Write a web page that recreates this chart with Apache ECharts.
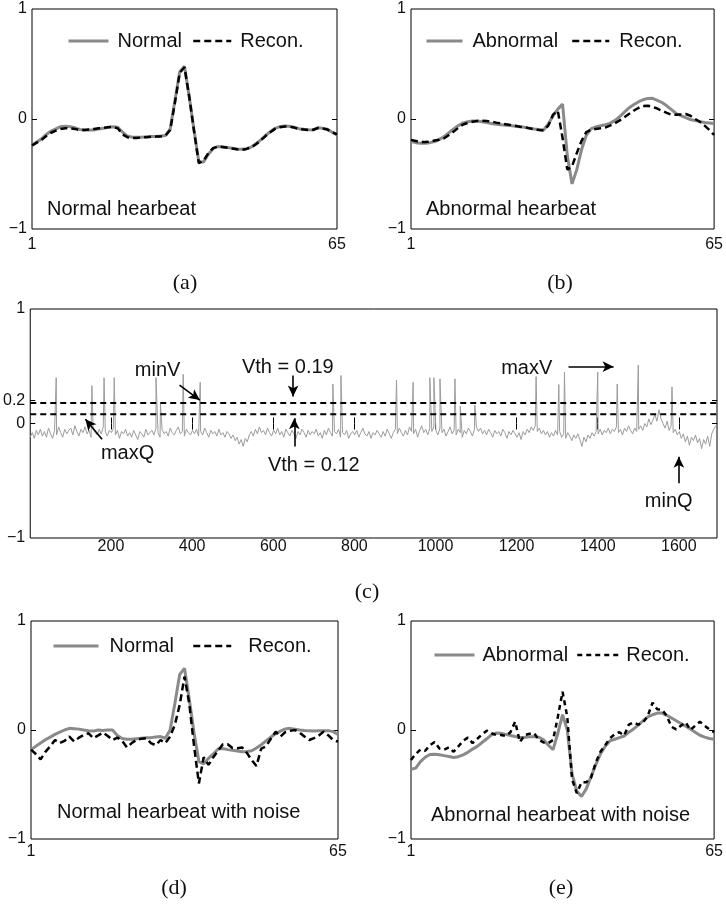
<!DOCTYPE html>
<html><head><meta charset="utf-8">
<script src="https://cdn.jsdelivr.net/npm/echarts@6/dist/echarts.min.js"></script>
<style>html,body{margin:0;padding:0;background:#fff}#c{width:726px;height:905px}</style>
</head><body><div id="c"></div>
<script>
// ---------------- DATA ----------------
const beatX = Array.from({length: 65}, (_, i) => i + 1);
const beatTicksX = [1, 65];
const beatTicksY = [-1, 0, 1];

const normalA = [-0.24,-0.21,-0.18,-0.14,-0.11,-0.09,-0.07,-0.065,-0.07,-0.08,
  -0.095,-0.1,-0.1,-0.1,-0.09,-0.085,-0.075,-0.07,-0.075,-0.12,
  -0.155,-0.165,-0.167,-0.165,-0.162,-0.16,-0.158,-0.155,-0.15,-0.09,
  0.17,0.43,0.48,0.2,-0.1,-0.39,-0.39,-0.32,-0.27,-0.25,
  -0.255,-0.26,-0.265,-0.272,-0.276,-0.27,-0.255,-0.225,-0.19,-0.15,
  -0.115,-0.085,-0.07,-0.064,-0.066,-0.075,-0.088,-0.094,-0.098,-0.1,
  -0.08,-0.085,-0.094,-0.12,-0.145];
const reconA = [-0.24,-0.215,-0.19,-0.155,-0.125,-0.105,-0.09,-0.085,-0.085,-0.09,
  -0.1,-0.1,-0.095,-0.09,-0.085,-0.08,-0.075,-0.072,-0.085,-0.14,
  -0.165,-0.172,-0.172,-0.168,-0.165,-0.162,-0.16,-0.158,-0.152,-0.1,
  0.15,0.42,0.47,0.2,-0.11,-0.4,-0.38,-0.31,-0.265,-0.25,
  -0.255,-0.262,-0.268,-0.275,-0.28,-0.272,-0.258,-0.23,-0.195,-0.155,
  -0.12,-0.09,-0.075,-0.068,-0.07,-0.078,-0.09,-0.095,-0.1,-0.098,
  -0.082,-0.087,-0.096,-0.12,-0.14];

const abnormalB = [-0.205,-0.215,-0.22,-0.22,-0.215,-0.205,-0.185,-0.16,-0.125,-0.09,
  -0.06,-0.035,-0.025,-0.018,-0.018,-0.025,-0.033,-0.04,-0.047,-0.052,
  -0.057,-0.06,-0.065,-0.07,-0.076,-0.083,-0.09,-0.095,-0.1,-0.045,
  0.03,0.09,0.135,-0.33,-0.59,-0.46,-0.28,-0.15,-0.09,-0.072,
  -0.062,-0.052,-0.04,-0.015,0.018,0.06,0.1,0.13,0.155,0.175,
  0.187,0.188,0.17,0.15,0.12,0.085,0.05,0.03,0.012,-0.005,
  -0.015,-0.024,-0.032,-0.036,-0.04];
const reconB = [-0.19,-0.2,-0.21,-0.21,-0.205,-0.195,-0.188,-0.176,-0.145,-0.115,
  -0.08,-0.05,-0.035,-0.025,-0.018,-0.015,-0.018,-0.025,-0.033,-0.04,
  -0.047,-0.055,-0.062,-0.07,-0.076,-0.085,-0.093,-0.1,-0.105,-0.06,
  0.04,0.075,-0.17,-0.46,-0.43,-0.31,-0.2,-0.12,-0.098,-0.09,
  -0.085,-0.078,-0.06,-0.04,-0.015,0.015,0.045,0.075,0.1,0.118,
  0.12,0.11,0.095,0.075,0.055,0.038,0.038,0.042,0.045,0.03,
  0.0,-0.025,-0.06,-0.1,-0.145];

const normalD = [-0.18,-0.15,-0.12,-0.09,-0.065,-0.04,-0.02,0.0,0.015,0.012,
  0.008,0.0,-0.006,-0.01,0.0,-0.005,0.0,0.0,-0.05,-0.078,
  -0.085,-0.084,-0.08,-0.076,-0.072,-0.07,-0.065,-0.06,-0.076,0.0,
  0.245,0.51,0.566,0.28,-0.03,-0.29,-0.31,-0.26,-0.22,-0.175,
  -0.17,-0.18,-0.186,-0.193,-0.2,-0.197,-0.19,-0.165,-0.135,-0.1,
  -0.065,-0.035,-0.01,0.01,0.015,0.008,0.0,-0.005,-0.008,-0.01,
  -0.008,-0.006,-0.006,-0.015,-0.04];
const reconD = [-0.18,-0.22,-0.27,-0.2,-0.15,-0.092,-0.12,-0.1,-0.06,-0.105,
  -0.07,-0.045,-0.03,-0.075,-0.05,-0.024,-0.055,-0.092,-0.07,-0.1,
  -0.159,-0.12,-0.09,-0.08,-0.076,-0.12,-0.14,-0.092,-0.12,-0.06,
  0.05,0.23,0.49,0.24,-0.15,-0.49,-0.25,-0.32,-0.25,-0.19,
  -0.13,-0.13,-0.165,-0.168,-0.16,-0.21,-0.275,-0.33,-0.17,-0.15,
  -0.08,-0.015,-0.061,-0.02,-0.008,0.0,-0.024,-0.06,-0.092,-0.075,
  -0.05,-0.015,-0.05,-0.092,-0.107];

const abnormalE = [-0.36,-0.35,-0.29,-0.25,-0.225,-0.222,-0.228,-0.235,-0.243,-0.252,
  -0.245,-0.228,-0.205,-0.175,-0.15,-0.115,-0.08,-0.045,-0.028,-0.03,
  -0.04,-0.05,-0.06,-0.068,-0.066,-0.062,-0.063,-0.066,-0.09,-0.14,
  -0.18,-0.03,0.14,0.0,-0.4,-0.56,-0.61,-0.54,-0.43,-0.32,
  -0.22,-0.15,-0.1,-0.085,-0.07,-0.055,-0.02,0.01,0.045,0.085,
  0.12,0.14,0.155,0.155,0.135,0.11,0.085,0.06,0.035,0.01,
  -0.02,-0.048,-0.065,-0.078,-0.085];
const reconE = [-0.275,-0.22,-0.18,-0.19,-0.14,-0.11,-0.17,-0.18,-0.16,-0.2,
  -0.15,-0.1,-0.07,-0.12,-0.08,-0.04,-0.006,-0.03,-0.046,-0.046,
  -0.055,-0.02,0.076,-0.11,-0.046,-0.035,-0.03,-0.09,-0.115,-0.12,
  -0.092,0.12,0.35,0.12,-0.45,-0.58,-0.48,-0.48,-0.44,-0.3,
  -0.2,-0.14,-0.076,-0.04,-0.02,-0.05,0.05,0.07,0.05,0.07,
  0.13,0.25,0.19,0.185,0.13,0.03,0.005,0.04,0.07,0.0,
  0.04,0.076,0.04,0.005,-0.02];

// Panel (c): long signal, baseline sampled every 5 samples from x = 1
const signalStep = 5;
const signalBase = [
  -0.12,-0.08,-0.13,-0.06,-0.1,-0.05,-0.11,-0.07,-0.12,-0.04,-0.09,-0.13,-0.06,-0.1,-0.03,-0.08,-0.12,-0.05,-0.09,-0.06,
  -0.04,-0.1,-0.02,-0.07,-0.11,-0.05,-0.08,-0.03,-0.09,-0.06,-0.12,-0.04,-0.08,-0.1,-0.05,-0.09,-0.03,-0.07,-0.11,-0.06,
  -0.08,-0.04,-0.1,-0.06,-0.13,-0.07,-0.09,-0.05,-0.11,-0.08,-0.12,-0.06,-0.1,-0.14,-0.07,-0.09,-0.12,-0.05,-0.1,-0.08,
  -0.06,-0.1,-0.04,-0.08,-0.12,-0.05,-0.09,-0.07,-0.11,-0.04,-0.08,-0.1,-0.06,-0.03,-0.09,-0.07,-0.11,-0.05,-0.08,-0.1,
  -0.06,-0.09,-0.05,-0.11,-0.07,-0.1,-0.04,-0.08,-0.12,-0.06,-0.09,-0.07,-0.11,-0.05,-0.1,-0.08,-0.12,-0.07,-0.09,-0.13,
  -0.1,-0.15,-0.12,-0.18,-0.14,-0.2,-0.13,-0.16,-0.1,-0.07,-0.11,-0.05,-0.09,-0.03,-0.08,-0.06,-0.1,-0.04,-0.08,-0.11,
  -0.06,-0.09,-0.04,-0.1,-0.07,-0.12,-0.05,-0.08,-0.11,-0.06,-0.09,-0.13,-0.07,-0.1,-0.05,-0.08,-0.12,-0.06,-0.1,-0.07,
  -0.09,-0.05,-0.11,-0.08,-0.13,-0.06,-0.1,-0.04,-0.08,-0.11,-0.07,-0.09,-0.05,-0.12,-0.08,-0.1,-0.06,-0.13,-0.09,-0.07,
  -0.1,-0.06,-0.12,-0.08,-0.04,-0.09,-0.11,-0.07,-0.13,-0.08,-0.1,-0.06,-0.09,-0.12,-0.07,-0.11,-0.05,-0.09,-0.13,-0.08,
  -0.05,-0.09,-0.04,-0.08,-0.11,-0.06,-0.1,-0.03,-0.07,-0.09,-0.05,-0.12,-0.06,-0.02,-0.08,-0.05,-0.1,-0.04,-0.07,-0.03,
  -0.06,-0.1,-0.04,-0.08,-0.05,-0.11,-0.07,-0.03,-0.09,-0.06,-0.1,-0.05,-0.08,-0.12,-0.06,-0.09,-0.04,-0.07,-0.11,-0.05,
  -0.03,-0.07,-0.04,-0.09,-0.06,-0.1,-0.05,-0.08,-0.12,-0.06,-0.09,-0.07,-0.11,-0.05,-0.08,-0.13,-0.07,-0.1,-0.06,-0.09,
  -0.12,-0.08,-0.14,-0.07,-0.1,-0.05,-0.08,-0.03,-0.06,-0.02,-0.07,-0.04,-0.09,-0.06,-0.1,-0.07,-0.12,-0.08,-0.11,-0.06,
  -0.1,-0.07,-0.12,-0.09,-0.13,-0.08,-0.11,-0.15,-0.1,-0.13,-0.09,-0.14,-0.2,-0.12,-0.16,-0.1,-0.13,-0.08,-0.11,-0.07,
  -0.09,-0.05,-0.1,-0.06,-0.08,-0.04,-0.09,-0.05,-0.07,-0.03,-0.08,-0.05,-0.1,-0.04,-0.07,-0.02,-0.06,-0.09,-0.04,-0.07,
  -0.05,-0.02,-0.06,0.0,-0.03,0.04,-0.01,0.03,0.08,0.02,0.12,0.04,0.0,-0.04,0.02,-0.06,-0.02,-0.08,-0.05,-0.1,
  -0.07,-0.13,-0.09,-0.16,-0.11,-0.19,-0.12,-0.15,-0.1,-0.17,-0.13,-0.22,-0.14,-0.18,-0.11,-0.2,-0.09,-0.05,-0.02
];
const spikeX = [65,153,183,208,311,322,378,420,747,767,904,945,986,996,1011,1048,1061,1097,1248,1304,1318,1400,1448,1500,1583];
const spikeY = [0.40,0.33,0.40,0.40,0.40,0.17,0.43,0.36,0.345,0.42,0.38,0.36,0.40,0.40,0.39,0.39,0.15,0.16,0.41,0.34,0.45,0.45,0.345,0.51,0.32];
const vthLevels = [0.18, 0.08];
const cRange = [1, 1694];
const cTicksX = [200, 400, 600, 800, 1000, 1200, 1400, 1600];
const cLabelsY = [-1, 0, 0.2, 1];
const cTicksY = [0, 0.2];

const annoText = ['minV', 'Vth = 0.19', 'maxQ', 'Vth = 0.12', 'maxV', 'minQ'];
const annoPos = [[315, 0.467], [636, 0.49], [241, -0.26], [700, -0.371], [1225, 0.482], [1575, -0.677]];
const arrowFrom = [[649, 0.42], [652, -0.2], [369, 0.336], [178, -0.138], [1328, 0.496], [1600, -0.522]];
const arrowTo   = [[649, 0.235], [652, 0.045], [419, 0.205], [137, 0.037], [1439, 0.496], [1600, -0.29]];

// ---------------- CHART ----------------
const SANS = '"Liberation Sans", Arial, Helvetica, sans-serif';
const SERIF = '"Liberation Serif", "Times New Roman", serif';
const GRAY = '#8a8a8a';
const INK = '#111';
const fmt = v => (v < 0 ? '\u2212' + (-v) : String(v));
const pairs = arr => beatX.map((x, i) => [x, arr[i]]);

const signalData = signalBase.map((v, i) => [1 + signalStep * i, v])
  .concat(spikeX.map((x, i) => [x, spikeY[i]]))
  .sort((a, b) => a[0] - b[0]);

const gridBox = {show: true, borderColor: '#000', borderWidth: 1, backgroundColor: 'rgba(0,0,0,0)'};
const grids = [
  Object.assign({left: 32, top: 9, width: 305, height: 220}, gridBox),
  Object.assign({left: 411, top: 9, width: 305, height: 220}, gridBox),
  Object.assign({left: 30, top: 309, width: 687, height: 229}, gridBox),
  Object.assign({left: 31, top: 621, width: 307, height: 218}, gridBox),
  Object.assign({left: 411, top: 621, width: 305, height: 218}, gridBox)
];

const labelStyle = {fontSize: 16, fontFamily: SANS, color: INK};
const tickStyle = (vals) => ({show: true, inside: true, length: 5, lineStyle: {color: '#000', width: 1}, customValues: vals});

function beatX_axis(gi, margin) {
  return {type: 'value', gridIndex: gi, min: 1, max: 65, position: 'bottom',
    axisLine: {show: false}, splitLine: {show: false},
    axisTick: {show: false},
    axisLabel: Object.assign({show: true, margin: margin, customValues: beatTicksX, formatter: fmt}, labelStyle)};
}
function beatY_axes(gi) {
  return [
    {type: 'value', gridIndex: gi, min: -1, max: 1, position: 'left',
      axisLine: {show: false}, splitLine: {show: false},
      axisTick: tickStyle([0]),
      axisLabel: Object.assign({show: true, margin: 5, customValues: beatTicksY, formatter: fmt}, labelStyle)},
    {type: 'value', gridIndex: gi, min: -1, max: 1, position: 'right',
      axisLine: {show: false}, splitLine: {show: false},
      axisTick: tickStyle([0]), axisLabel: {show: false}}
  ];
}

const xAxes = [
  beatX_axis(0, 8), beatX_axis(1, 8),
  {type: 'value', gridIndex: 2, min: cRange[0], max: cRange[1], position: 'bottom',
    axisLine: {show: false}, splitLine: {show: false},
    axisTick: Object.assign(tickStyle(cTicksX), {length: 6}),
    axisLabel: Object.assign({show: true, margin: 1, customValues: cTicksX, formatter: fmt}, labelStyle)},
  {type: 'value', gridIndex: 2, min: cRange[0], max: cRange[1], position: 'top',
    axisLine: {show: false}, splitLine: {show: false},
    axisTick: Object.assign(tickStyle(cTicksX), {length: 6}), axisLabel: {show: false}},
  beatX_axis(3, 5), beatX_axis(4, 5)
];
const yAxes = [].concat(
  beatY_axes(0), beatY_axes(1),
  [{type: 'value', gridIndex: 2, min: -1, max: 1, position: 'left',
     axisLine: {show: false}, splitLine: {show: false},
     axisTick: tickStyle(cTicksY),
     axisLabel: Object.assign({show: true, margin: 5, customValues: cLabelsY, formatter: fmt}, labelStyle)},
   {type: 'value', gridIndex: 2, min: -1, max: 1, position: 'right',
     axisLine: {show: false}, splitLine: {show: false},
     axisTick: tickStyle(cTicksY), axisLabel: {show: false}}],
  beatY_axes(3), beatY_axes(4)
);

const solid = {color: GRAY, width: 3};
const dashed = {color: '#000', width: 2.5, type: [7, 4]};
const dashedE = {color: '#000', width: 2.5, type: [5, 4]};
function lineSeries(name, data, xi, yi, style, z) {
  return {type: 'line', name: name, data: data, xAxisIndex: xi, yAxisIndex: yi,
    symbol: 'none', showSymbol: false, smooth: false, lineStyle: style,
    itemStyle: {color: style.color}, z: z, silent: true};
}

const series = [
  lineSeries('Normal', pairs(normalA), 0, 0, solid, 2),
  lineSeries('Recon.', pairs(reconA), 0, 0, dashed, 3),
  lineSeries('Abnormal', pairs(abnormalB), 1, 2, solid, 2),
  lineSeries('Recon.', pairs(reconB), 1, 2, dashed, 3),
  lineSeries('Signal', signalData, 2, 4, {color: '#9c9c9c', width: 1}, 2),
  lineSeries('Vth1', [[cRange[0], vthLevels[0]], [cRange[1], vthLevels[0]]], 2, 4, {color: '#000', width: 2, type: [6, 4]}, 3),
  Object.assign(lineSeries('Vth2', [[cRange[0], vthLevels[1]], [cRange[1], vthLevels[1]]], 2, 4, {color: '#000', width: 2, type: [6, 4]}, 3), {
    markLine: {silent: true, symbol: ['none', 'arrow'], symbolSize: [8, 11], animation: false,
      lineStyle: {color: '#000', width: 1.6, type: 'solid'}, label: {show: false},
      data: arrowFrom.map((p, i) => [{coord: p}, {coord: arrowTo[i]}])}
  }),
  lineSeries('Normal', pairs(normalD), 4, 6, solid, 2),
  lineSeries('Recon.', pairs(reconD), 4, 6, dashed, 3),
  lineSeries('Abnormal', pairs(abnormalE), 5, 8, solid, 2),
  lineSeries('Recon.', pairs(reconE), 5, 8, dashedE, 3)
];

const legendSpec = [
  ['Normal', 67, 31, 40, 4, solid], ['Recon.', 192, 31, 38, 4, dashed],
  ['Abnormal', 425, 31, 36, 5, solid], ['Recon.', 571, 31, 37, 5, dashed],
  ['Normal', 52, 636, 45, 6, solid], ['Recon.', 192, 636, 38, 12, dashed],
  ['Abnormal', 433, 645, 40, 3, solid], ['Recon.', 576, 645, 44, 0, dashedE]
];
const legends = legendSpec.map(s => ({
  data: [s[0]], left: s[1], top: s[2], itemWidth: s[3], itemHeight: 18, padding: 0,
  selectedMode: false, itemGap: 0,
  itemStyle: {color: 'rgba(0,0,0,0)', borderColor: 'rgba(0,0,0,0)', borderWidth: 0, opacity: 0},
  lineStyle: {color: s[5].color, width: s[5].width, type: s[5].type},
  textStyle: {fontSize: 20, fontFamily: SANS, color: INK, padding: [0, 0, 0, s[4]]}
}));

const txt = (x, y, text, font, align) => ({type: 'text', x: x, y: y, silent: true,
  style: {text: text, font: font, fill: INK, align: align, verticalAlign: 'middle'}});
const staticGraphics = [
  txt(47, 209, 'Normal hearbeat', '20px ' + SANS, 'left'),
  txt(426, 209, 'Abnormal hearbeat', '20px ' + SANS, 'left'),
  txt(57, 812, 'Normal hearbeat with noise', '20px ' + SANS, 'left'),
  txt(431, 815, 'Abnornal hearbeat with noise', '20px ' + SANS, 'left'),
  txt(185, 283, '(a)', '22px ' + SERIF, 'center'),
  txt(560, 283, '(b)', '22px ' + SERIF, 'center'),
  txt(367, 592, '(c)', '22px ' + SERIF, 'center'),
  txt(174, 888, '(d)', '22px ' + SERIF, 'center'),
  txt(561, 888, '(e)', '22px ' + SERIF, 'center')
];

const chart = echarts.init(document.getElementById('c'), null, {renderer: 'canvas', width: 726, height: 905});
chart.setOption({
  animation: false,
  backgroundColor: '#fff',
  grid: grids,
  xAxis: xAxes,
  yAxis: yAxes,
  legend: legends,
  series: series,
  graphic: staticGraphics
});
// annotation labels in panel (c), placed at data coordinates
const annoGraphics = annoText.map((t, i) => {
  const p = chart.convertToPixel({xAxisIndex: 2, yAxisIndex: 4}, annoPos[i]);
  return txt(p[0], p[1], t, '20px ' + SANS, 'center');
});
chart.setOption({graphic: staticGraphics.concat(annoGraphics)});
</script></body></html>
